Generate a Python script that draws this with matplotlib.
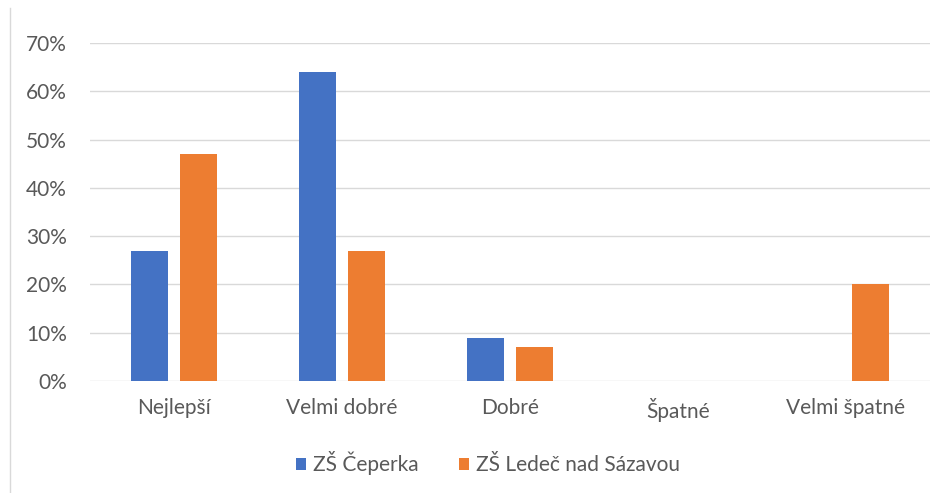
import matplotlib
matplotlib.use("Agg")
import matplotlib.pyplot as plt
import numpy as np
from matplotlib.ticker import PercentFormatter, MultipleLocator
from matplotlib.lines import Line2D

categories = ["Nejlepší", "Velmi dobré", "Dobré", "Špatné", "Velmi špatné"]
series_names = ["ZŠ Čeperka", "ZŠ Ledeč nad Sázavou"]
ceperka = [0.27, 0.64, 0.09, 0.0, 0.0]
ledec = [0.47, 0.27, 0.07, 0.0, 0.20]
colors = ["#4472C4", "#ED7D31"]

plt.rcParams['font.family'] = ['Lato', 'DejaVu Sans']
text_color = "#595959"
fs = 15

fig = plt.figure(figsize=(9.46, 4.93), dpi=100)
ax = fig.add_axes([90/946, 1-381/493, 840/946, (381-43)/493])

x = np.arange(len(categories))
w = 0.22
off = 0.143
ax.bar(x - off, ceperka, width=w, color=colors[0], label=series_names[0], zorder=3)
ax.bar(x + off, ledec, width=w, color=colors[1], label=series_names[1], zorder=3)

ax.set_xlim(-0.5, len(categories) - 0.5)
ax.set_ylim(0, 0.70)
ax.yaxis.set_major_locator(MultipleLocator(0.1))
ax.yaxis.set_major_formatter(PercentFormatter(1.0, decimals=0))
ax.grid(axis='y', color="#D9D9D9", linewidth=1, zorder=0)
for s in ax.spines.values():
    s.set_visible(False)
ax.tick_params(axis='both', length=0, colors=text_color, labelsize=fs)
ax.tick_params(axis='y', pad=16.5)
ax.tick_params(axis='x', pad=12)
ax.set_xticks(x)
ax.set_xticklabels(categories)

leg = fig.legend(loc='center', bbox_to_anchor=(488/946, 1-463/493), ncol=2,
                 frameon=False, fontsize=fs, handlelength=0.5, handleheight=0.5,
                 handletextpad=0.35, columnspacing=1.9)
for t in leg.get_texts():
    t.set_color(text_color)

fig.add_artist(Line2D([9.5/946, 9.5/946], [0, 1-8/493], transform=fig.transFigure,
                      color="#D9D9D9", linewidth=1))

fig.savefig("out.png", dpi=100)
